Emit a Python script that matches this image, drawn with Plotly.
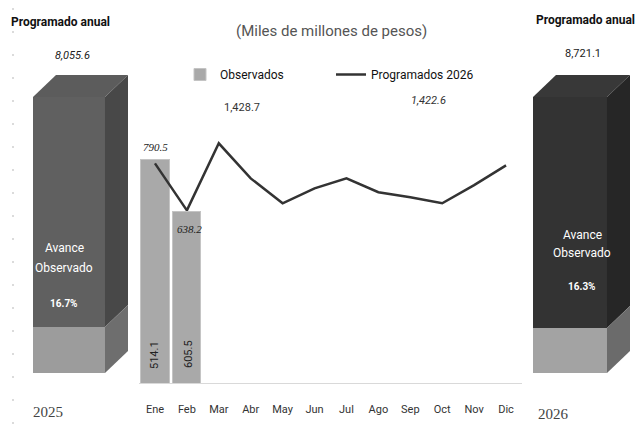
import plotly.graph_objects as go

# ---------------- data ----------------
months = ["Ene", "Feb", "Mar", "Abr", "May", "Jun", "Jul", "Ago", "Sep", "Oct", "Nov", "Dic"]
observados = [790.5, 605.5]
obs_top_labels = ["790.5", "638.2"]
obs_inner_labels = ["514.1", "605.5"]
programados_2026 = [776, 610, 847, 723, 635, 688, 723, 674, 656, 635, 699, 769]
peak_labels = ["1,428.7", "1,422.6"]

years = ["2025", "2026"]
programado_anual = ["8,055.6", "8,721.1"]
avance_pct = [16.7, 16.3]

W, H = 642, 424
def px(x):
    return x / W
def py(y):
    return 1 - y / H

FONT = "Roboto, Open Sans, sans-serif"

fig = go.Figure()

# main chart
fig.add_trace(go.Bar(
    x=months[:len(observados)], y=observados, name="Observados",
    marker=dict(color="#a9a9a9", line=dict(color="#c4c4c4", width=1)),
    width=0.88, xaxis="x", yaxis="y", hoverinfo="skip"))
fig.add_trace(go.Scatter(
    x=months, y=programados_2026, name="Programados 2026", mode="lines",
    line=dict(color="#333333", width=2.5), xaxis="x", yaxis="y", hoverinfo="skip"))

# side boxes (stacked bars on their own axes)
box_dom_x = [[33, 105], [533, 607]]
box_top, box_bot = 97, 373
front_cols = [("#9c9c9c", "#606060"), ("#a3a3a3", "#333333")]
side_cols = [("#6e6e6e", "#484848"), ("#6b6b6b", "#262626")]
top_cols = ["#5c5c5c", "#383838"]
axes = [("x2", "y2"), ("x3", "y3")]
for i, yr in enumerate(years):
    xa, ya = axes[i]
    fig.add_trace(go.Bar(x=[yr], y=[avance_pct[i]], width=1, showlegend=False,
                         marker=dict(color=front_cols[i][0], line=dict(width=0)),
                         xaxis=xa, yaxis=ya, hoverinfo="skip"))
    fig.add_trace(go.Bar(x=[yr], y=[100 - avance_pct[i]], width=1, showlegend=False,
                         marker=dict(color=front_cols[i][1], line=dict(width=0)),
                         xaxis=xa, yaxis=ya, hoverinfo="skip"))

shapes = []
dx, dy = 23, 22
for i in range(2):
    x0, x1 = box_dom_x[i]
    ysplit = box_bot - avance_pct[i] / 100 * (box_bot - box_top)
    def poly(pts, col):
        d = "M " + " L ".join(f"{px(a):.5f},{py(b):.5f}" for a, b in pts) + " Z"
        return dict(type="path", path=d, xref="paper", yref="paper",
                    fillcolor=col, line=dict(width=0), layer="above")
    shapes.append(poly([(x0, box_top), (x1, box_top), (x1 + dx, box_top - dy), (x0 + dx, box_top - dy)], top_cols[i]))
    shapes.append(poly([(x1, box_top), (x1 + dx, box_top - dy), (x1 + dx, ysplit - dy), (x1, ysplit)], side_cols[i][1]))
    shapes.append(poly([(x1, ysplit), (x1 + dx, ysplit - dy), (x1 + dx, box_bot - dy), (x1, box_bot)], side_cols[i][0]))

# faint dotted line at left edge
shapes.append(dict(type="line", xref="paper", yref="paper", x0=px(13), x1=px(13), y0=0, y1=1,
                   line=dict(color="#d0d0d0", width=1.5, dash="2px,21px"), layer="below"))

ann = []
def A(x, y, text, size=11, color="#222", **kw):
    d = dict(x=px(x), y=py(y), xref="paper", yref="paper", text=text, showarrow=False,
             font=dict(size=size, color=color, family=kw.pop("family", FONT)),
             xanchor="center", yanchor="middle")
    d.update(kw)
    ann.append(d)

A(332, 31, "(Miles de millones de pesos)", size=15, color="#555")
A(60, 22, "<b>Programado anual</b>", size=12, color="#111")
A(585, 20, "<b>Programado anual</b>", size=12, color="#111")
A(72, 55, f"<i>{programado_anual[0]}</i>", size=11, color="#222")
A(583, 53, f"{programado_anual[1]}", size=11, color="#222")
A(242, 107, peak_labels[0], size=11, color="#333")
A(428, 100, f"<i>{peak_labels[1]}</i>", size=11, color="#333")

box_txt = [(64, 248, 268, 303), (582, 235, 253, 286)]
for i in range(2):
    cx, a, b, c = box_txt[i]
    A(cx, a, "Avance", size=12, color="white")
    A(cx, b, "Observado", size=12, color="white")
    A(cx, c, f"<b>{avance_pct[i]}%</b>", size=10, color="white")
A(48, 412, years[0], size=15, color="#444", family="Liberation Serif, serif")
A(553, 414, years[1], size=15, color="#444", family="Liberation Serif, serif")

# bar labels
top_pos = [(155, 147), (190, 229)]
for i, lab in enumerate(obs_top_labels):
    A(top_pos[i][0], top_pos[i][1], f"<i>{lab}</i>", size=11, color="#222", family="Liberation Serif, serif")
inner_pos = [(154, 355), (188, 354)]
for i, lab in enumerate(obs_inner_labels):
    A(inner_pos[i][0], inner_pos[i][1], lab, size=11, color="#222", textangle=-90)

fig.update_layout(
    width=W, height=H, autosize=False,
    margin=dict(l=0, r=0, t=0, b=0),
    paper_bgcolor="white", plot_bgcolor="white",
    barmode="stack", bargap=0.12,
    font=dict(family=FONT, color="#222"),
    showlegend=True,
    legend=dict(orientation="h", x=px(180), y=py(60), xanchor="left", yanchor="top",
                font=dict(size=12, color="#111"), bgcolor="rgba(0,0,0,0)",
                itemwidth=30, entrywidth=106, entrywidthmode="pixels", traceorder="normal"),
    xaxis=dict(domain=[px(139), px(522)], range=[-0.5, 11.5], type="category",
               categoryorder="array", categoryarray=months,
               showline=True, linecolor="#d9d9d9", linewidth=1, showgrid=False, zeroline=False,
               ticks="outside", ticklen=16, tickcolor="rgba(0,0,0,0)",
               tickfont=dict(size=11, color="#333"), anchor="y"),
    yaxis=dict(domain=[py(383), py(100)], range=[0, 1000], visible=False, anchor="x"),
    xaxis2=dict(domain=[px(box_dom_x[0][0]), px(box_dom_x[0][1])], range=[-0.5, 0.5], visible=False, anchor="y2"),
    yaxis2=dict(domain=[py(box_bot), py(box_top)], range=[0, 100], visible=False, anchor="x2"),
    xaxis3=dict(domain=[px(box_dom_x[1][0]), px(box_dom_x[1][1])], range=[-0.5, 0.5], visible=False, anchor="y3"),
    yaxis3=dict(domain=[py(box_bot), py(box_top)], range=[0, 100], visible=False, anchor="x3"),
    shapes=shapes, annotations=ann,
)

fig.write_html("out.html", config={"displayModeBar": False},
               post_script="document.body.style.margin='0';document.body.style.overflow='hidden';")
